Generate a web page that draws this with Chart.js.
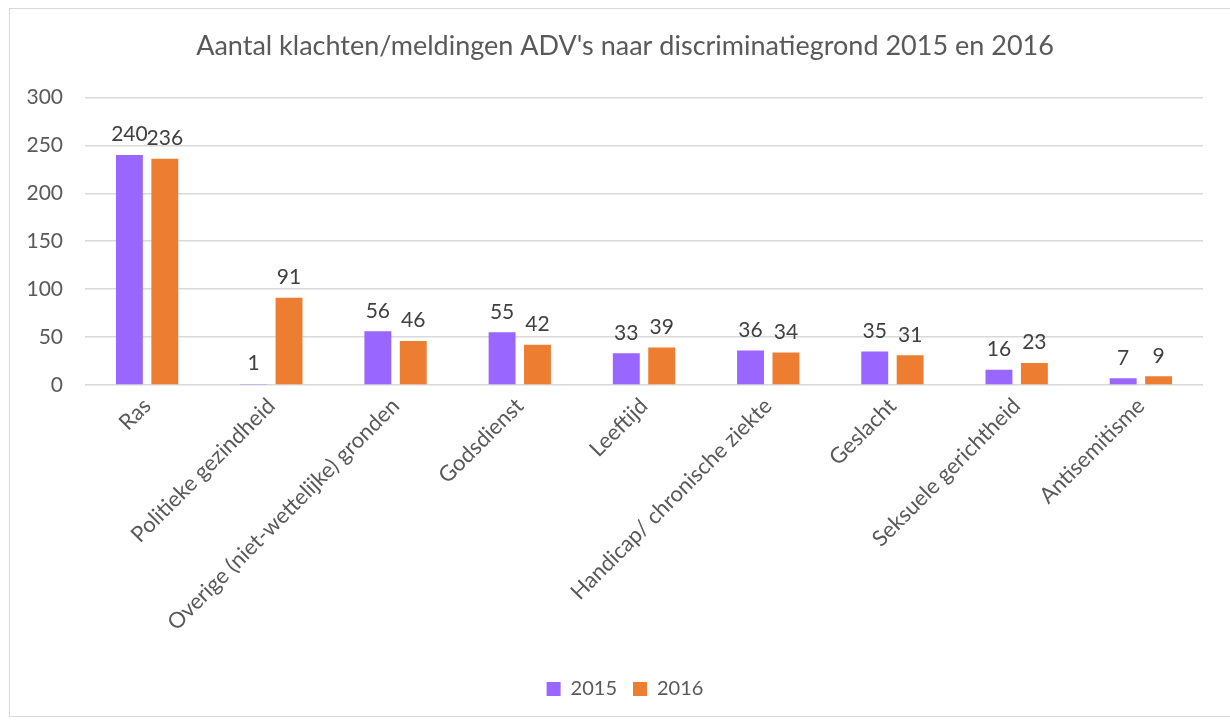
<!DOCTYPE html>
<html>
<head>
<meta charset="utf-8">
<script src="https://cdn.jsdelivr.net/npm/chart.js@4/dist/chart.umd.min.js"></script>
<style>
  html, body { margin: 0; padding: 0; background: #fff; }
  #wrap { position: relative; width: 1230px; height: 720px; }
  #frame { position: absolute; left: 9px; top: 8px; width: 1240px; height: 709px; border: 1px solid #d9d9d9; box-sizing: border-box; }
  canvas { position: absolute; left: 0; top: 0; }
</style>
</head>
<body>
<div id="wrap">
  <div id="frame"></div>
  <canvas id="chart" width="1230" height="720"></canvas>
</div>
<script>
// --------------------
// Data
// --------------------
const categories = [
    "Ras",
    "Politieke gezindheid",
    "Overige (niet-wettelijke) gronden",
    "Godsdienst",
    "Leeftijd",
    "Handicap/ chronische ziekte",
    "Geslacht",
    "Seksuele gerichtheid",
    "Antisemitisme"
];
const values2015 = [240, 1, 56, 55, 33, 36, 35, 16, 7];
const values2016 = [236, 91, 46, 42, 39, 34, 31, 23, 9];
const yTicks = [0, 50, 100, 150, 200, 250, 300];

const FONT = "Lato, 'Open Sans', sans-serif";
const TEXT = '#595959';

// draws the value above every bar
const barValues = {
    id: 'barValues',
    afterDatasetsDraw(chart) {
        const ctx = chart.ctx;
        ctx.save();
        ctx.font = '21px ' + FONT;
        ctx.fillStyle = '#404040';
        ctx.textAlign = 'center';
        ctx.textBaseline = 'bottom';
        chart.data.datasets.forEach((ds, i) => {
            chart.getDatasetMeta(i).data.forEach((bar, j) => {
                ctx.fillText(ds.data[j], bar.x, bar.y - 10);
            });
        });
        ctx.restore();
    }
};

const chartConfig = {
    type: 'bar',
    data: {
        labels: categories,
        datasets: [{
            label: '2015',
            data: values2015,
            backgroundColor: '#9966FF',
            borderColor: 'transparent',
            categoryPercentage: 0.57,
            barPercentage: 0.76,
        }, {
            label: '2016',
            data: values2016,
            backgroundColor: '#ED7D31',
            borderColor: 'transparent',
            categoryPercentage: 0.57,
            barPercentage: 0.76,
        }]
    },
    options: {
        responsive: false,
        animation: false,
        layout: { padding: { left: 20, right: 0, top: 0, bottom: 11 } },
        plugins: {
            title: {
                display: true,
                text: "Aantal klachten/meldingen ADV's naar discriminatiegrond 2015 en 2016",
                color: TEXT,
                font: { family: FONT, size: 27, weight: 'normal' },
                padding: { top: 30, bottom: 35 }
            },
            legend: {
                position: 'bottom',
                labels: {
                    color: TEXT,
                    font: { family: FONT, size: 20 },
                    boxWidth: 14,
                    boxHeight: 14,
                    padding: 16
                }
            },
            tooltip: { enabled: false }
        },
        scales: {
            x: {
                grid: { display: false },
                border: { display: false },
                ticks: {
                    color: TEXT,
                    font: { family: FONT, size: 22 },
                    minRotation: 45,
                    maxRotation: 45,
                    padding: 0
                },
                afterFit(scale) { scale.height = 278; }
            },
            y: {
                min: 0,
                max: 300,
                grid: { color: '#d9d9d9', lineWidth: 1.5, drawTicks: false },
                border: { display: false },
                ticks: {
                    color: TEXT,
                    font: { family: FONT, size: 21 },
                    padding: 22,
                    stepSize: 50
                },
                afterBuildTicks(scale) { scale.ticks = yTicks.map(v => ({ value: v })); },
                afterFit(scale) { scale.width = 65; }
            },
            yRight: {
                position: 'right',
                display: true,
                grid: { display: false },
                border: { display: false },
                ticks: { display: false },
                afterFit(scale) { scale.width = 27; }
            }
        }
    },
    plugins: [barValues]
};

new Chart(document.getElementById('chart'), chartConfig);
</script>
</body>
</html>
